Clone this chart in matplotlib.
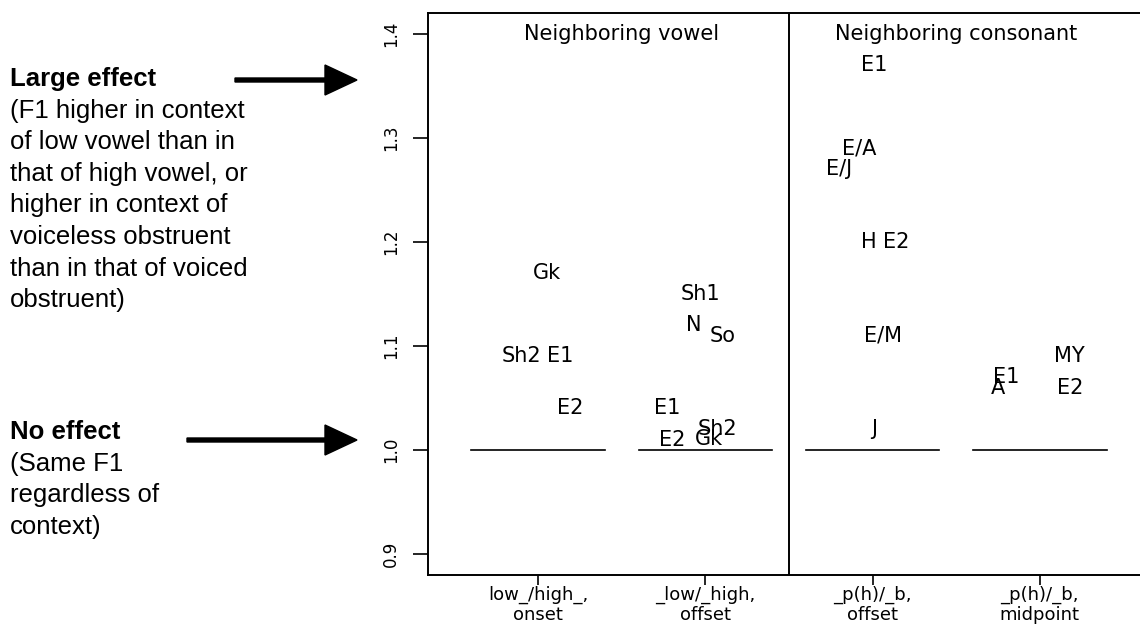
import matplotlib
matplotlib.use("Agg")
import matplotlib.pyplot as plt

# --- data ---
conditions = ["low_/high_,\nonset", "_low/_high,\noffset",
              "_p(h)/_b,\noffset", "_p(h)/_b,\nmidpoint"]
cond_x = [1, 2, 3, 4]
panel_titles = ["Neighboring vowel", "Neighboring consonant"]
panel_x = [1.5, 3.5]

# speaker labels: (label, x, ratio)
lab_names = ["Gk", "Sh2", "E1", "E2",
             "Sh1", "N", "So", "E1", "E2", "Gk", "Sh2",
             "E1", "E/A", "E/J", "H", "E2", "E/M", "J",
             "E1", "A", "MY", "E2"]
lab_x = [1.05, 0.90, 1.13, 1.19,
         1.97, 1.93, 2.10, 1.77, 1.80, 2.02, 2.07,
         3.01, 2.92, 2.80, 2.98, 3.14, 3.06, 3.01,
         3.80, 3.75, 4.18, 4.18]
lab_y = [1.17, 1.09, 1.09, 1.04,
         1.15, 1.12, 1.11, 1.04, 1.01, 1.011, 1.02,
         1.37, 1.29, 1.27, 1.20, 1.20, 1.11, 1.02,
         1.07, 1.06, 1.09, 1.06]
no_effect = 1.0
yticks = [0.9, 1.0, 1.1, 1.2, 1.3, 1.4]

large_head = "Large effect"
large_body = ["(F1 higher in context", "of low vowel than in",
              "that of high vowel, or", "higher in context of",
              "voiceless obstruent", "than in that of voiced", "obstruent)"]
none_head = "No effect"
none_body = ["(Same F1", "regardless of", "context)"]

W, H = 1140, 624
fig = plt.figure(figsize=(W / 100, H / 100), dpi=100)
ax = fig.add_axes([428 / W, 49 / H, (1150 - 428) / W, (575 - 13) / H])

for x in cond_x:
    ax.plot([x - 0.4, x + 0.4], [no_effect, no_effect], color="black", lw=1.2)
ax.axvline(2.5, color="black", lw=1.4)

for t, x in zip(panel_titles, panel_x):
    ax.text(x, 1.4, t, ha="center", va="center", fontsize=15, family="DejaVu Sans")
for t, x, y in zip(lab_names, lab_x, lab_y):
    ax.text(x, y, t, ha="center", va="center", fontsize=15, family="DejaVu Sans")

ax.set_xlim(0.34, 4.66)
ax.set_ylim(0.88, 1.42)
ax.set_xticks(cond_x)
ax.set_xticklabels(conditions, fontsize=13, linespacing=1.15)
ax.set_yticks(yticks)
ax.set_yticklabels([f"{v:.1f}" for v in yticks], rotation=90, va="center", fontsize=12)
ax.tick_params(axis="y", length=11, width=1.2, pad=9)
ax.tick_params(axis="x", length=7, width=1.2, pad=1)
for s in ax.spines.values():
    s.set_linewidth(1.4)

# --- left-side annotations ---
sans = ["Liberation Sans", "DejaVu Sans"]
step = 31.6
for head, body, y0 in [(large_head, large_body, 79), (none_head, none_body, 432)]:
    fig.text(10 / W, 1 - y0 / H, head, fontsize=18.5, fontweight="bold",
             family=sans, va="center")
    for i, line in enumerate(body):
        fig.text(10 / W, 1 - (y0 + step * (i + 1)) / H, line, fontsize=18.5,
                 family=sans, va="center")

for x0, y0 in [(235, 80), (187, 440)]:
    fig.patches.append(matplotlib.patches.FancyArrow(
        x0 / W, 1 - y0 / H, (357 - x0) / W, 0, width=4 / H, head_width=30 / H,
        head_length=32 / W, length_includes_head=True, color="black",
        transform=fig.transFigure, figure=fig))

fig.savefig("out.png", dpi=100)
